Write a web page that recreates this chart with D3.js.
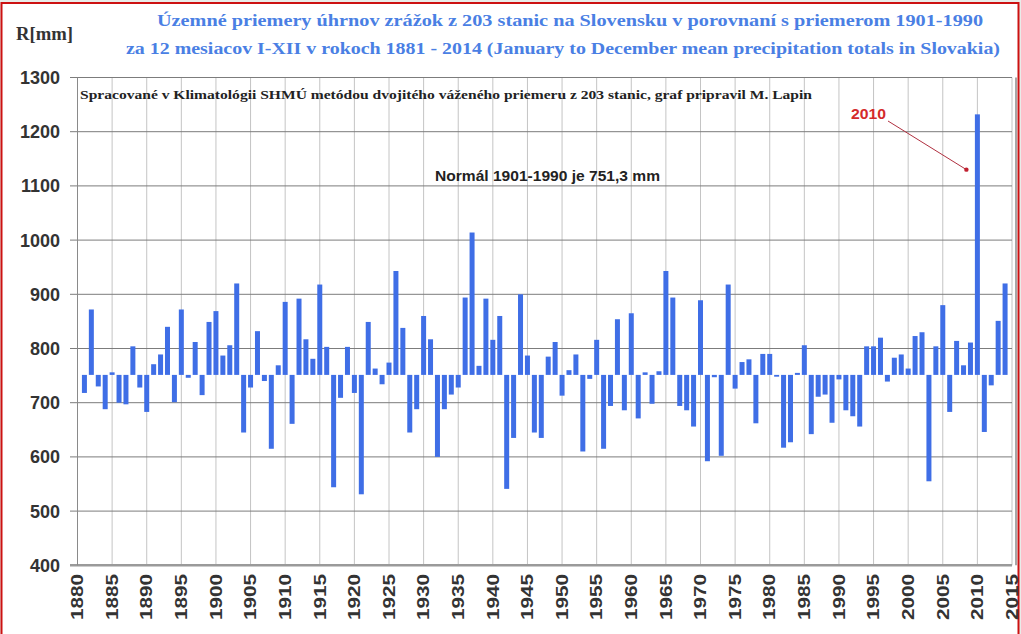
<!DOCTYPE html>
<html>
<head>
<meta charset="utf-8">
<script src="https://cdn.jsdelivr.net/npm/d3@7"></script>
<style>
  body { margin: 0; background: #e8ece9; }
  svg { display: block; }
</style>
</head>
<body>
<script>
//chart data: yearly precipitation totals (mm), 1881-2014
var firstYear = 1881;
var totals = [
  718, 872, 730, 688, 756, 700, 697, 804, 728, 683,   // 1881-1890
  771, 789, 840, 701, 872, 746, 812, 714, 849, 869,   // 1891-1900
  787, 806, 920, 645, 728, 832, 740, 615, 769, 886,   // 1901-1910
  661, 892, 817, 781, 918, 803, 544, 709, 803, 718,   // 1911-1920
  531, 849, 763, 734, 774, 943, 838, 645, 688, 860,   // 1921-1930
  817, 600, 688, 715, 728, 894, 1014, 768, 892, 816,  // 1931-1940
  860, 541, 635, 900, 787, 645, 635, 785, 812, 713,   // 1941-1950
  760, 789, 610, 744, 816, 615, 694, 854, 686, 865,   // 1951-1960
  671, 756, 698, 758, 943, 894, 694, 686, 656, 889,   // 1961-1970
  592, 747, 602, 918, 726, 775, 780, 662, 790, 790,   // 1971-1980
  748, 617, 627, 755, 806, 642, 711, 715, 663, 743,   // 1981-1990
  686, 675, 656, 804, 804, 820, 739, 783, 789, 763,   // 1991-2000
  823, 830, 555, 804, 880, 683, 814, 769, 811, 1232,  // 2001-2010
  646, 732, 851, 920                                  // 2011-2014
];
var normal = 751.3;

var yTicks = [400, 500, 600, 700, 800, 900, 1000, 1100, 1200, 1300];
var xTicks = d3.range(1880, 2016, 5);

var titleLines = [
  'Územné priemery úhrnov zrážok z 203 stanic na Slovensku v porovnaní s priemerom 1901-1990',
  'za 12 mesiacov I-XII v rokoch 1881 - 2014 (January to December mean precipitation totals in Slovakia)'
];
var noteText = 'Spracované v Klimatológii SHMÚ metódou dvojitého váženého priemeru z 203 stanic, graf pripravil M. Lapin';
var normalText = 'Normál 1901-1990 je 751,3 mm';
var highlightYear = 2010;

var data = totals.map(function(v, i) { return { year: firstYear + i, value: v }; });

//svg dimensions
var width = 1021,
    height = 634;

var x = d3.scaleLinear().domain([1880, 2015]).range([77.5, 1012]);
var y = d3.scaleLinear().domain([400, 1300]).range([565.3, 77.5]);

var svg = d3.select('body')
  .append('svg')
  .attr('width', width)
  .attr('height', height);

//white page with red frame
svg.append('rect')
  .attr('x', 1.5).attr('y', 3)
  .attr('width', 1017).attr('height', 640)
  .attr('fill', '#fff')
  .attr('stroke', '#cc1111')
  .attr('stroke-width', 2);

//vertical grid
svg.append('g')
  .selectAll('line')
  .data(xTicks)
  .enter().append('line')
  .attr('x1', function(d) { return x(d); })
  .attr('x2', function(d) { return x(d); })
  .attr('y1', y(1300))
  .attr('y2', y(400))
  .attr('stroke', '#c4c4c4')
  .attr('stroke-width', 1);

//horizontal grid + left ticks
svg.append('g')
  .selectAll('line')
  .data(yTicks)
  .enter().append('line')
  .attr('x1', 70)
  .attr('x2', x(2015))
  .attr('y1', function(d) { return y(d); })
  .attr('y2', function(d) { return y(d); })
  .attr('stroke', function(d) { return d === 400 ? '#9a9a9a' : '#7c7c7c'; })
  .attr('stroke-width', function(d) { return d === 400 ? 2.5 : 1; });

//plot frame sides
svg.append('line')
  .attr('x1', x(1880)).attr('x2', x(1880))
  .attr('y1', y(1300)).attr('y2', y(400))
  .attr('stroke', '#8a8a8a');
svg.append('line')
  .attr('x1', x(2015) + 4).attr('x2', x(2015) + 4)
  .attr('y1', y(1300)).attr('y2', y(400))
  .attr('stroke', '#8a8a8a')
  .attr('stroke-width', 1.5);

//y labels
svg.append('g')
  .selectAll('text')
  .data(yTicks)
  .enter().append('text')
  .attr('x', 60)
  .attr('y', function(d) { return y(d); })
  .attr('dy', '0.36em')
  .attr('text-anchor', 'end')
  .attr('font-family', 'Liberation Sans, Arial, sans-serif')
  .attr('font-weight', 'bold')
  .attr('font-size', 18)
  .attr('fill', '#333')
  .text(function(d) { return d; });

//x labels (rotated)
svg.append('g')
  .selectAll('text')
  .data(xTicks)
  .enter().append('text')
  .attr('transform', function(d) { return 'translate(' + x(d) + ',' + 574 + ') rotate(-90)'; })
  .attr('dy', '0.36em')
  .attr('text-anchor', 'end')
  .attr('font-family', 'Liberation Sans, Arial, sans-serif')
  .attr('font-weight', 'bold')
  .attr('font-size', 16)
  .attr('textLength', 46)
  .attr('lengthAdjust', 'spacingAndGlyphs')
  .attr('fill', '#333')
  .text(function(d) { return d; });

//bars from the normal
var bw = 5;
svg.append('g')
  .selectAll('rect')
  .data(data)
  .enter().append('rect')
  .attr('x', function(d) { return x(d.year) - bw / 2; })
  .attr('width', bw)
  .attr('y', function(d) { return y(Math.max(d.value, normal)); })
  .attr('height', function(d) { return Math.max(1.5, Math.abs(y(d.value) - y(normal))); })
  .attr('fill', '#3f6ee6');

//title
svg.append('g')
  .selectAll('text')
  .data(titleLines)
  .enter().append('text')
  .attr('x', function(d, i) { return i === 0 ? 157 : 126; })
  .attr('y', function(d, i) { return i === 0 ? 26 : 54; })
  .attr('textLength', function(d, i) { return i === 0 ? 826 : 874; })
  .attr('lengthAdjust', 'spacingAndGlyphs')
  .attr('font-family', 'Liberation Serif, Times New Roman, serif')
  .attr('font-weight', 'bold')
  .attr('font-size', 17)
  .attr('fill', '#4a7fe4')
  .text(function(d) { return d; });

svg.append('text')
  .attr('x', 16).attr('y', 40)
  .attr('textLength', 57)
  .attr('lengthAdjust', 'spacingAndGlyphs')
  .attr('font-family', 'Liberation Serif, Times New Roman, serif')
  .attr('font-weight', 'bold')
  .attr('font-size', 18)
  .attr('fill', '#333')
  .text('R[mm]');

svg.append('text')
  .attr('x', 80).attr('y', 99)
  .attr('textLength', 732)
  .attr('lengthAdjust', 'spacingAndGlyphs')
  .attr('font-family', 'Liberation Serif, Times New Roman, serif')
  .attr('font-weight', 'bold')
  .attr('font-size', 12.5)
  .attr('fill', '#222')
  .text(noteText);

svg.append('text')
  .attr('x', 435).attr('y', 181)
  .attr('textLength', 225)
  .attr('lengthAdjust', 'spacingAndGlyphs')
  .attr('font-family', 'Liberation Sans, Arial, sans-serif')
  .attr('font-weight', 'bold')
  .attr('font-size', 14)
  .attr('fill', '#222')
  .text(normalText);

//2010 annotation
var hi = data.filter(function(d) { return d.year === highlightYear; })[0];
svg.append('text')
  .attr('x', 851).attr('y', 119)
  .attr('textLength', 35)
  .attr('lengthAdjust', 'spacingAndGlyphs')
  .attr('font-family', 'Liberation Sans, Arial, sans-serif')
  .attr('font-weight', 'bold')
  .attr('font-size', 14)
  .attr('fill', '#d42a2a')
  .text(highlightYear);

var ax = x(hi.year) - 11, ay = y(1130);
svg.append('line')
  .attr('x1', 888).attr('y1', 121)
  .attr('x2', ax).attr('y2', ay)
  .attr('stroke', '#b03040')
  .attr('stroke-width', 1);
svg.append('circle')
  .attr('cx', ax).attr('cy', ay)
  .attr('r', 2.2)
  .attr('fill', '#c02030');
</script>
</body>
</html>
